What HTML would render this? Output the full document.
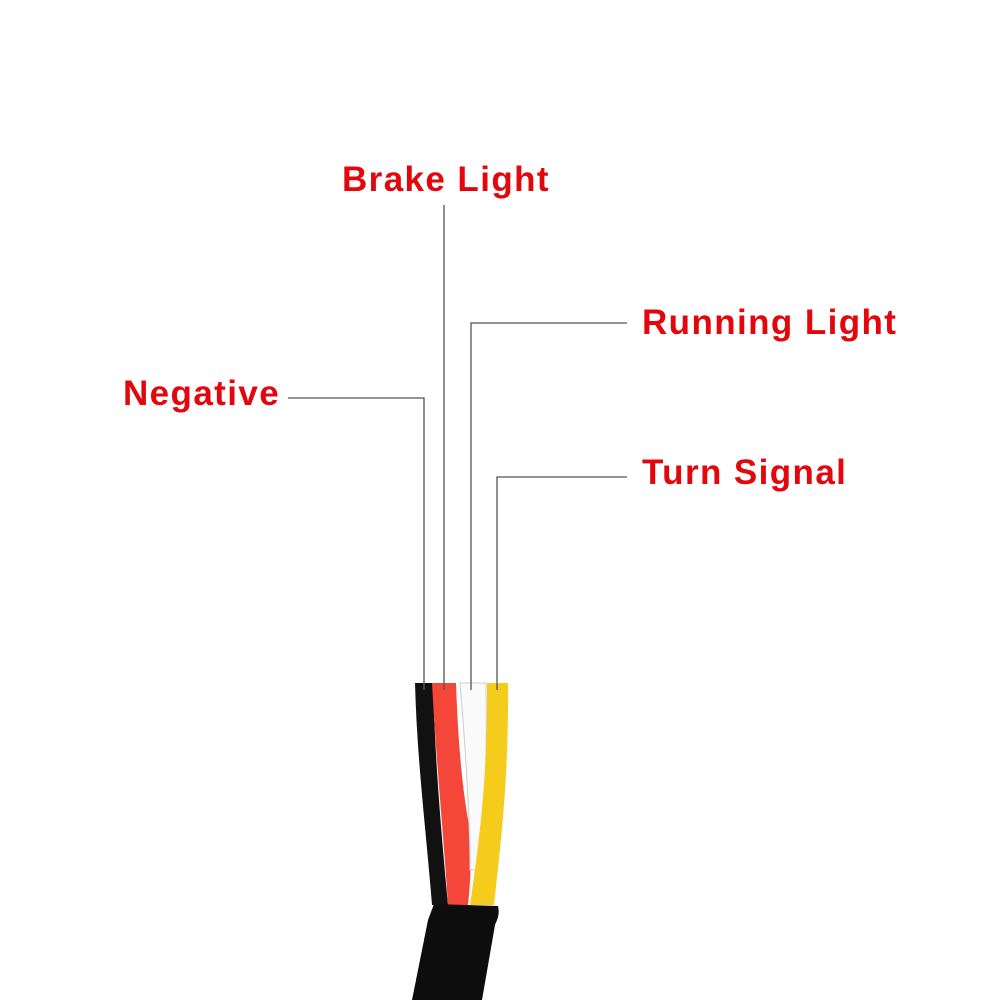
<!DOCTYPE html>
<html><head><style>
body{margin:0;background:#fff;}
.t{position:absolute;font-family:"Liberation Sans",sans-serif;font-weight:bold;color:#e3070d;font-size:35px;letter-spacing:1.4px;line-height:1;white-space:nowrap;}
</style></head><body>
<div style="position:relative;width:1000px;height:1000px;overflow:hidden;">
<div class="t" style="left:342px;top:162px;">Brake Light</div>
<div class="t" style="left:642px;top:305px;">Running Light</div>
<div class="t" style="left:123px;top:376px;">Negative</div>
<div class="t" style="left:642px;top:455px;">Turn Signal</div>
<svg width="1000" height="1000" style="position:absolute;left:0;top:0">
<path d="M415 683 L433 683 C435 760 441 830 448 905 L432 905 C426 830 417 760 415 683Z" fill="#111"/>
<path d="M432 683 L456 683 C458 740 462 790 470 830 C472 860 470 885 468 905 L448 905 C444 840 436 760 432 683Z" fill="#f4473a"/>
<path d="M460 683 L486 683 C487 750 485 820 478 870 L470 870 C470 820 465 740 460 683Z" fill="#fafafa" stroke="#ccc" stroke-width="1"/>
<path d="M487 683 L508 683 C509 780 500 850 494 905 L470 905 C478 850 488 780 487 683Z" fill="#f6cc1c"/>
<path d="M434 904 L498 906 C500 915 497 920 495 925 L482 1000 L412 1000 L428 920Z" fill="#0d0d0d"/>
<g stroke="#555" stroke-width="1.3" fill="none">
<path d="M444 205 V690"/>
<path d="M288 398 H424 V690"/>
<path d="M627 323 H471 V690"/>
<path d="M627 477 H497 V690"/>
</g>
</svg>
</div>
</body></html>
